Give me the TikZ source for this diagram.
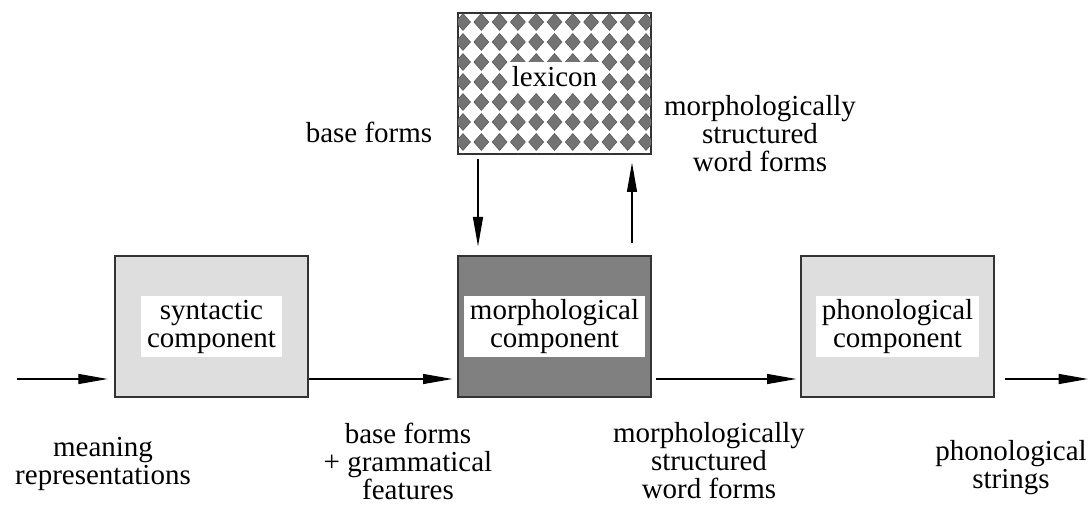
\documentclass[tikz,border=0pt]{standalone}
\usepackage{fontspec}
\setmainfont{Liberation Serif}
\usetikzlibrary{arrows.meta}
\newcommand\dgfont{\fontsize{21.75pt}{21pt}\selectfont}
\begin{document}
\begin{tikzpicture}[x=0.75pt,y=-0.75pt,
  comp/.style={draw=black!80, line width=1pt, minimum width=144.75pt, minimum height=105.75pt, inner sep=0pt},
  light/.style={comp, fill=black!13},
  dark/.style={comp, fill=black!50},
  inlbl/.style={fill=white, align=center, inner xsep=4.5pt, inner ysep=2.6pt, font=\dgfont},
  lbl/.style={align=center, font=\dgfont, inner sep=0pt},
  arr/.style={line width=0.9pt, -{Triangle[length=22pt,width=7.5pt]}},
  dmd/.style={fill=black!55, draw=black!70, line width=0.3pt}
]
\path[use as bounding box] (0,0) rectangle (1090,506);

% boxes
\node[light] (syn) at (211.5,326.5) {};
\node[dark]  (mor) at (554.5,326.5) {};
\node[light] (pho) at (897.5,326.5) {};
\node[comp, fill=white] (lex) at (554.5,83.5) {};

% lexicon pattern
\begin{scope}
  \clip (lex.south west) rectangle (lex.north east);
  \foreach \i in {0,...,11}{
    \foreach \j in {-1,...,7}{
      \fill[dmd] (463+18.3*\i,22+20*\j) ++(-7.5,0) -- ++(7.5,-8.5) -- ++(7.5,8.5) -- ++(-7.5,8.5) -- cycle;
    }
  }
\end{scope}
\draw[draw=black!80, line width=1pt] (lex.south west) rectangle (lex.north east);

% inner labels
\node[inlbl] (synl) at (syn) {syntactic\\component};
\node[inlbl] (morl) at (mor) {morphological\\component};
\node[inlbl] (phol) at (pho) {phonological\\component};
\node[inlbl, inner xsep=3pt, inner ysep=3.75pt] (lexl) at (554.5,77) {lexicon};

% flow line helpers
\coordinate (flow) at (0,379);
\coordinate (in) at (17,379);
\coordinate (out) at (1088,379);
\coordinate (dn) at (478,0);
\coordinate (up) at (632,0);

% arrows
\draw[arr, shorten >=5pt] (in) -- (syn.west |- flow);
\draw[arr, shorten >=3.75pt] (syn.east |- flow) -- (mor.west |- flow);
\draw[arr, shorten <=3pt, shorten >=3pt] (mor.east |- flow) -- (pho.west |- flow);
\draw[arr, shorten <=7.5pt] (pho.east |- flow) -- (out);
\draw[arr, shorten <=3pt, shorten >=6.75pt] (lex.south -| dn) -- (mor.north -| dn);
\draw[arr, shorten <=9pt, shorten >=6pt] (mor.north -| up) -- (lex.south -| up);

% outer labels
\node[lbl] (lmean) at (103,464) {meaning\\representations};
\node[lbl] (lbase) at (408,461) {base forms\\+ grammatical\\features};
\node[lbl] (lmsw) at (709,461) {morphologically\\structured\\word forms};
\node[lbl] (lphon) at (1011,468) {phonological\\strings};
\node[lbl, anchor=base] (ltbase) at (369,143) {base forms};
\node[lbl] (ltmsw) at (760,133.5) {morphologically\\structured\\word forms};
\end{tikzpicture}
\end{document}
